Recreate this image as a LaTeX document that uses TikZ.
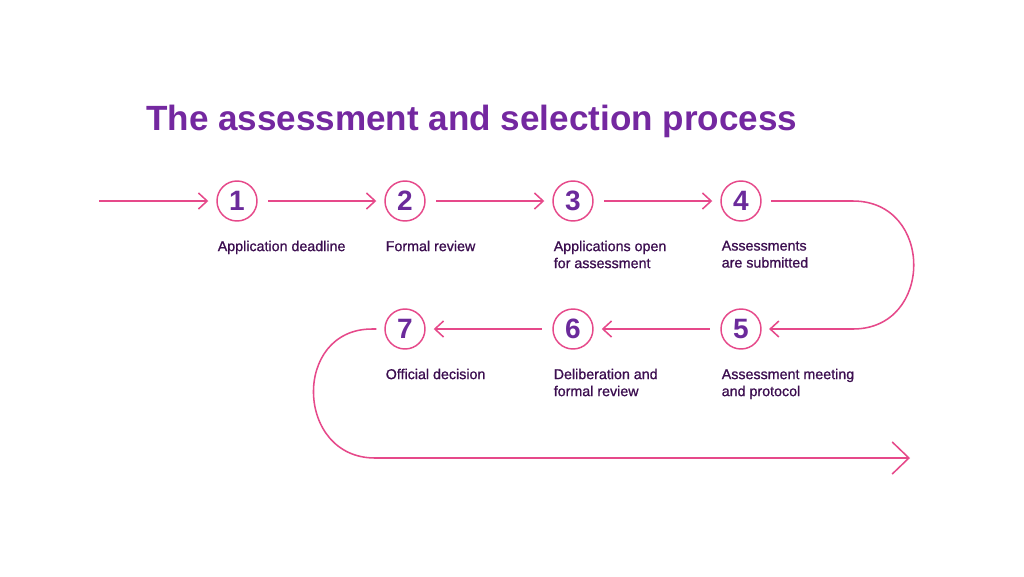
\documentclass[tikz,border=0pt]{standalone}
\usepackage{fontspec}
\setmainfont{Liberation Sans}
\newfontfamily\lblfont{Liberation Sans}[RawFeature={embolden=0.9}]
\usetikzlibrary{arrows.meta}
\definecolor{pinkline}{HTML}{E6498A}
\definecolor{titlepurple}{HTML}{7428A0}
\definecolor{numpurple}{HTML}{6B2A9B}
\definecolor{labeltext}{HTML}{3C0E50}
\begin{document}
\begin{tikzpicture}[x=0.75pt,y=-0.75pt,
  flow/.style={draw=pinkline, line width=1.15pt},
  tipsmall/.style={-{Straight Barb[length=6.5pt,width=12pt]}},
  tipbig/.style={-{Straight Barb[length=12.5pt,width=24pt]}},
  stepcircle/.style={circle, draw=pinkline, line width=1.1pt, minimum size=30pt, inner sep=0pt,
    font=\fontsize{21pt}{21pt}\selectfont\bfseries, text=numpurple},
  lbl/.style={anchor=north west, inner sep=0pt, align=left, text=labeltext,
    font=\lblfont\fontsize{10.7pt}{12.75pt}\selectfont}]
\useasboundingbox (0,0) rectangle (1024,576);
\fill[white] (0,0) rectangle (1024,576);
\node[anchor=base west, inner sep=0pt, text=titlepurple,
  font=\fontsize{26.3pt}{30pt}\selectfont\bfseries] (title) at (146,130) {The assessment and selection process};
\node[stepcircle] (c1) at (237,201) {1};
\node[stepcircle] (c2) at (405,201) {2};
\node[stepcircle] (c3) at (573,201) {3};
\node[stepcircle] (c4) at (741,201) {4};
\node[stepcircle] (c5) at (741,329) {5};
\node[stepcircle] (c6) at (573,329) {6};
\node[stepcircle] (c7) at (405,329) {7};
\node[lbl] (t1) at (217.5,240.5) {Application deadline};
\node[lbl] (t2) at (385.5,240.5) {Formal review};
\node[lbl] (t3) at (553.5,240.5) {Applications open\\for assessment};
\node[lbl] (t4) at (721.5,240.5) {Assessments\\are submitted};
\node[lbl] (t5) at (721.5,368.5) {Assessment meeting\\and protocol};
\node[lbl] (t6) at (553.5,368.5) {Deliberation and\\formal review};
\node[lbl] (t7) at (385.5,368.5) {Official decision};
\coordinate (s) at (99,201);
\coordinate (r1) at (853,201);
\coordinate (r1c) at (934,201);
\coordinate (r2c) at (934,329);
\coordinate (r2) at (853,329);
\coordinate (l1) at (372,329);
\coordinate (l1c) at (292,329);
\coordinate (l2c) at (295,458);
\coordinate (l2) at (375,458);
\coordinate (e) at (910,458);
\draw[flow,tipsmall,shorten >=6pt] (s) -- (c1);
\draw[flow,tipsmall,shorten <=8pt,shorten >=6pt] (c1) -- (c2);
\draw[flow,tipsmall,shorten <=8pt,shorten >=6pt] (c2) -- (c3);
\draw[flow,tipsmall,shorten <=8pt,shorten >=6pt] (c3) -- (c4);
\draw[flow,tipsmall,shorten <=7pt,shorten >=5.5pt] (c4) -- (r1) .. controls (r1c) and (r2c) .. (r2) -- (c5);
\draw[flow,tipsmall,shorten <=8pt,shorten >=6pt] (c5) -- (c6);
\draw[flow,tipsmall,shorten <=8pt,shorten >=6pt] (c6) -- (c7);
\draw[flow,tipbig,shorten <=6pt] (c7) -- (l1) .. controls (l1c) and (l2c) .. (l2) -- (e);
\end{tikzpicture}
\end{document}
